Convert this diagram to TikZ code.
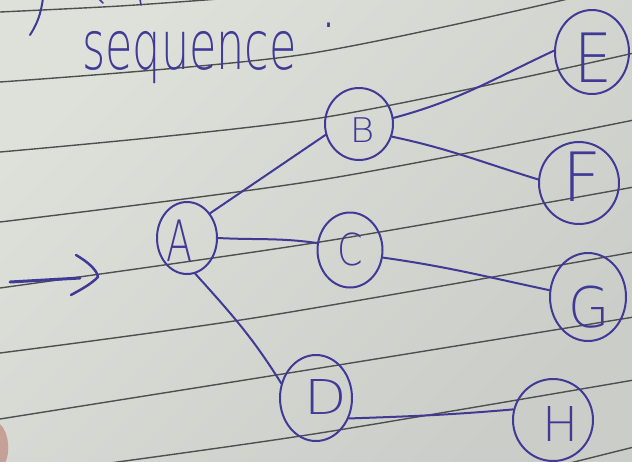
\documentclass[tikz,border=0pt]{standalone}
\usepackage{fontspec}
\usepackage{graphicx}
\usetikzlibrary{shapes.geometric}
\IfFontExistsTF{DejaVuSans-ExtraLight.ttf}
  {\newfontfamily\handfont{DejaVuSans-ExtraLight.ttf}}
  {\newfontfamily\handfont{DejaVu Sans}}
\newfontfamily\dotfont{DejaVu Sans}
\definecolor{paperlight}{RGB}{222,224,218}
\definecolor{paperdark}{RGB}{203,206,200}
\definecolor{ink}{RGB}{64,58,150}
\definecolor{rulegrey}{RGB}{78,80,80}
\definecolor{skin}{RGB}{196,160,150}
% letter inside a bubble: x-shift (doubled), y-shift (down), x-scale, size, letter
\newcommand\handletter[5]{%
  \smash{\makebox[0pt]{\hspace*{#1}\raisebox{\dimexpr-0.5\height-#2\relax}{%
    \fontsize{#4}{#4}\handfont\scalebox{#3}[1]{#5}}}}}
\tikzset{
  rulestroke/.style={draw=rulegrey, line width=1.4pt},
  inkline/.style={draw=ink, line width=2pt, line cap=round, line join=round},
  bubble/.style={ellipse, draw=ink, line width=2pt, inner sep=0pt, text=ink},
}
\begin{document}
\begin{tikzpicture}[x=1pt, y=-1pt]
  \useasboundingbox (0,0) rectangle (632,461);
  \shade[top color=paperlight, bottom color=paperdark, shading angle=45]
    (0,0) rectangle (632,461);
  \clip (0,0) rectangle (632,461);

  % ruled lines of the notebook page
  \draw[rulestroke] plot[smooth] coordinates {(0,12) (120,6) (232,-2)};
  \draw[rulestroke] plot[smooth] coordinates {(0,82) (300,55) (572,-2)};
  \draw[rulestroke] plot[smooth] coordinates {(0,152) (320,118) (634,53)};
  \draw[rulestroke] plot[smooth] coordinates {(0,222) (320,180) (634,120)};
  \draw[rulestroke] plot[smooth] coordinates {(0,288) (320,242) (634,187)};
  \draw[rulestroke] plot[smooth] coordinates {(0,353) (260,317) (634,252)};
  \draw[rulestroke] plot[smooth] coordinates {(0,419) (320,368) (634,317)};
  \draw[rulestroke] plot[smooth] coordinates {(110,463) (320,433) (634,380)};
  \draw[rulestroke] plot[smooth] coordinates {(570,463) (634,447)};

  % fingertip at the lower left edge
  \fill[skin] (0,424) .. controls (10,434) and (10,454) .. (5,463) -- (0,463) -- cycle;

  % ink from the line above
  \draw[inkline] (43,-2) .. controls (41,14) and (37,24) .. (30,35);
  \draw[inkline, line width=1.6pt] (99,-1) -- (103,3);
  \draw[inkline, line width=1.6pt] (140,-1) -- (141,5);

  % heading
  \node[anchor=base west, xscale=0.655, inner sep=0pt, text=ink,
        font=\fontsize{68pt}{68pt}\handfont] (title) at (82,69)
        {sequence\hspace{44pt}\raisebox{42pt}{\fontsize{24pt}{24pt}\dotfont\bfseries .}};

  % nodes
  \node[bubble, minimum width=60pt, minimum height=72pt] (A) at (187,238)
    {\handletter{-14pt}{3pt}{0.67}{57pt}{A}};
  \node[bubble, minimum width=68pt, minimum height=72pt] (B) at (359,124)
    {\handletter{6pt}{6pt}{1.1}{34pt}{B}};
  \node[bubble, minimum width=65pt, minimum height=75pt] (C) at (350,250)
    {\handletter{0pt}{-1pt}{0.83}{44pt}{C}};
  \node[bubble, minimum width=72pt, minimum height=86pt] (D) at (316,398)
    {\handletter{20pt}{-1pt}{1.15}{48pt}{D}};
  \node[bubble, minimum width=74pt, minimum height=84pt] (E) at (592,52)
    {\handletter{2pt}{6pt}{0.88}{68pt}{E}};
  \node[bubble, minimum width=80pt, minimum height=82pt] (F) at (579,183)
    {\handletter{6pt}{-6pt}{1.0}{68pt}{F}};
  \node[bubble, minimum width=76pt, minimum height=88pt] (G) at (588,297)
    {\handletter{2pt}{10pt}{0.95}{56pt}{G}};
  \node[bubble, minimum width=80pt, minimum height=82pt] (H) at (553,420)
    {\handletter{16pt}{4pt}{1.0}{48pt}{H}};

  % connectors
  \draw[inkline] (A.47) -- (B.198);
  \draw[inkline] (A.0) to[out=-3, in=172] (C.168);
  \draw[inkline] (A.283) to[out=-48, in=122] (D.157);
  \draw[inkline] (B.10) to[out=15, in=205] (E.178);
  \draw[inkline] (B.-21) to[out=-12, in=163] (F.175);
  \draw[inkline] (C.-13) to[out=-8, in=168] (G.170);
  \draw[inkline] (D.-32) to[out=2, in=185] (H.165);

  % entry arrow: shaft and a hand-drawn chevron
  \coordinate (tail) at (10,282);
  \coordinate (shaftend) at (80,278);
  \coordinate (head) at (98,277);
  \draw[inkline, line width=3pt] (tail) -- (shaftend);
  \draw[inkline, line width=2.5pt] (76,255) .. controls (88,262) and (97,270) .. (head)
    .. controls (90,285) and (80,290) .. (71,295);
\end{tikzpicture}
\end{document}
